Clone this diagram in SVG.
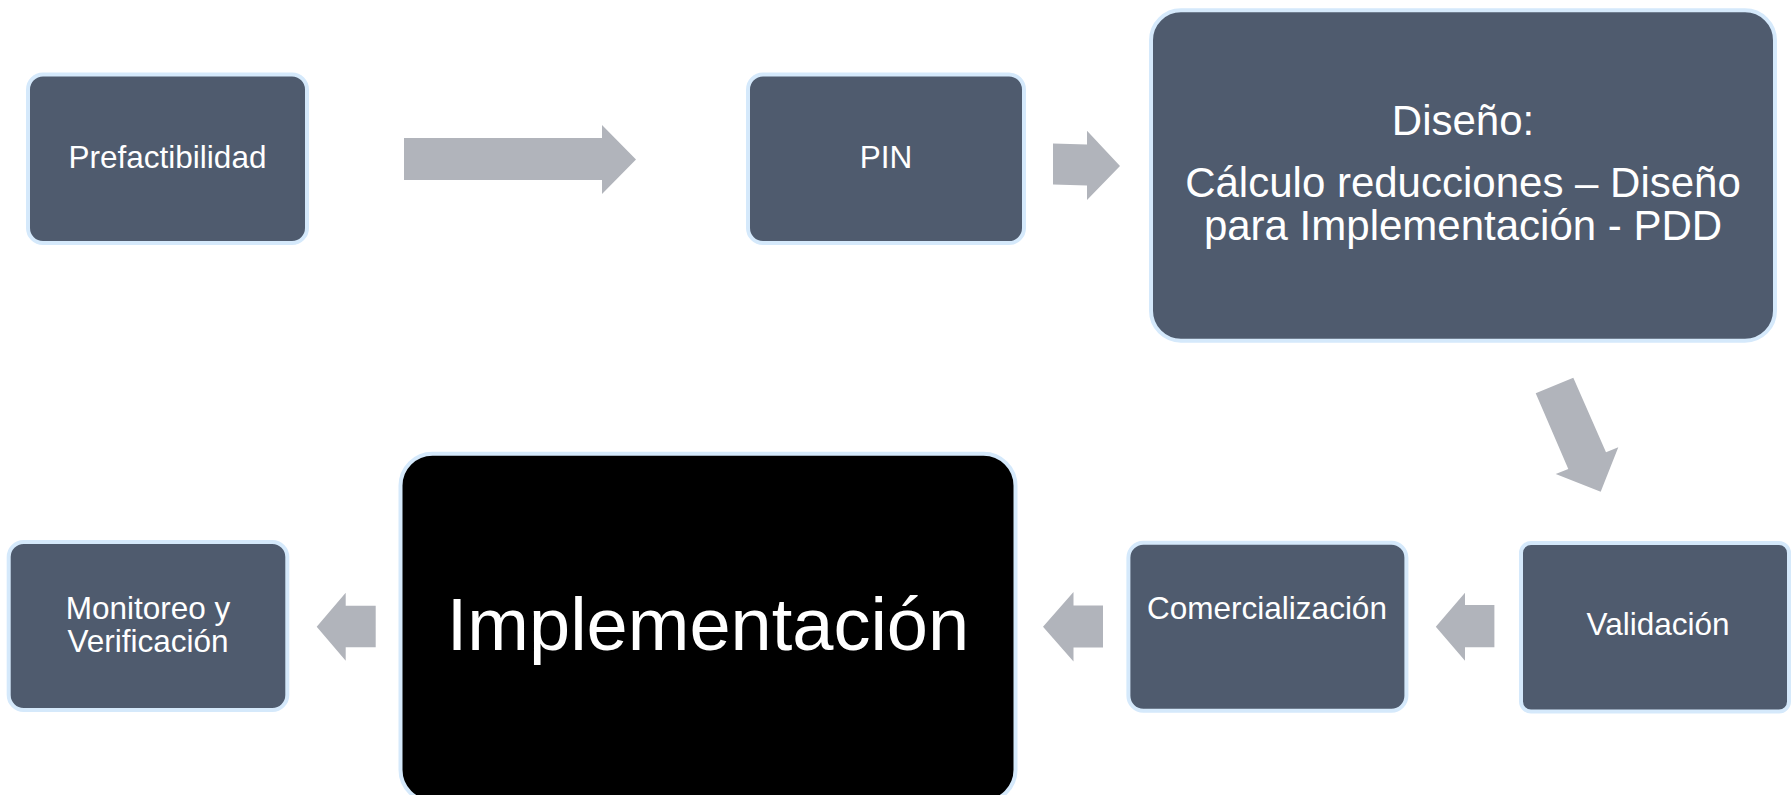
<svg xmlns="http://www.w3.org/2000/svg" width="1791" height="795" viewBox="0 0 1791 795">
<style>
.box{fill:#4f5b6e;stroke:#d5e9fb;stroke-width:4}
.dark{fill:#000000;stroke:#d5e9fb;stroke-width:4}
.arrow{fill:#b1b4bb;stroke:none}
.t{font-family:"Liberation Sans",Arial,sans-serif;fill:#ffffff;text-anchor:middle;font-size:31.5px}
.tl{font-family:"Liberation Sans",Arial,sans-serif;fill:#ffffff;text-anchor:middle;font-size:42px}
.tx{font-family:"Liberation Sans",Arial,sans-serif;fill:#ffffff;text-anchor:middle;font-size:74px}
</style>
<rect width="1791" height="795" fill="#ffffff"/>
<g id="connectors">
<polygon class="arrow" points="404,138 602,138 602,125 636,159.5 602,194 602,180 404,180"/>
<polygon class="arrow" points="1053,143.5 1087,144.5 1087,130.7 1120,166 1087,200 1087,185.5 1053,184.5"/>
<polygon class="arrow" points="1535.7,393.3 1573.3,377.7 1606,452.3 1618.3,447.3 1600.7,491.7 1555.7,474 1568.3,469"/>
<polygon class="arrow" points="1494.4,605 1465,605 1465,592.7 1435.8,626.7 1465,660.7 1465,647.3 1494.4,647.3"/>
<polygon class="arrow" points="1103,605.5 1073.5,605.5 1073.5,592 1043,626.7 1073.5,661.5 1073.5,647.5 1103,647.5"/>
<polygon class="arrow" points="375.7,605.7 345.7,605.7 345.7,592.7 316.7,626.7 345.7,660.7 345.7,647.3 375.7,647.3"/>
</g>
<g id="prefactibilidad">
<rect class="box" x="28" y="74.5" width="279" height="168.5" rx="15"/>
<text class="t" x="167.5" y="168">Prefactibilidad</text>
</g>
<g id="pin">
<rect class="box" x="748" y="74.5" width="276" height="168.5" rx="15"/>
<text class="t" x="886" y="168">PIN</text>
</g>
<g id="diseno">
<rect class="box" x="1151" y="10.3" width="624" height="330.4" rx="30"/>
<text class="tl" x="1463" y="135">Diseño:</text>
<text class="tl" x="1463" y="197">Cálculo reducciones – Diseño</text>
<text class="tl" x="1463" y="240">para Implementación - PDD</text>
</g>
<g id="validacion">
<rect class="box" x="1521" y="543" width="268" height="168.5" rx="10"/>
<text class="t" x="1658" y="635">Validación</text>
</g>
<g id="comercializacion">
<rect class="box" x="1128.4" y="542.7" width="278" height="168" rx="15"/>
<text class="t" x="1267" y="619">Comercialización</text>
</g>
<g id="implementacion">
<rect class="dark" x="400.5" y="453.7" width="615" height="348" rx="32"/>
<text class="tx" x="708" y="650">Implementación</text>
</g>
<g id="monitoreo">
<rect class="box" x="8.7" y="542" width="278.6" height="168" rx="15"/>
<text class="t" x="148" y="619">Monitoreo y</text>
<text class="t" x="148" y="652">Verificación</text>
</g>
</svg>
